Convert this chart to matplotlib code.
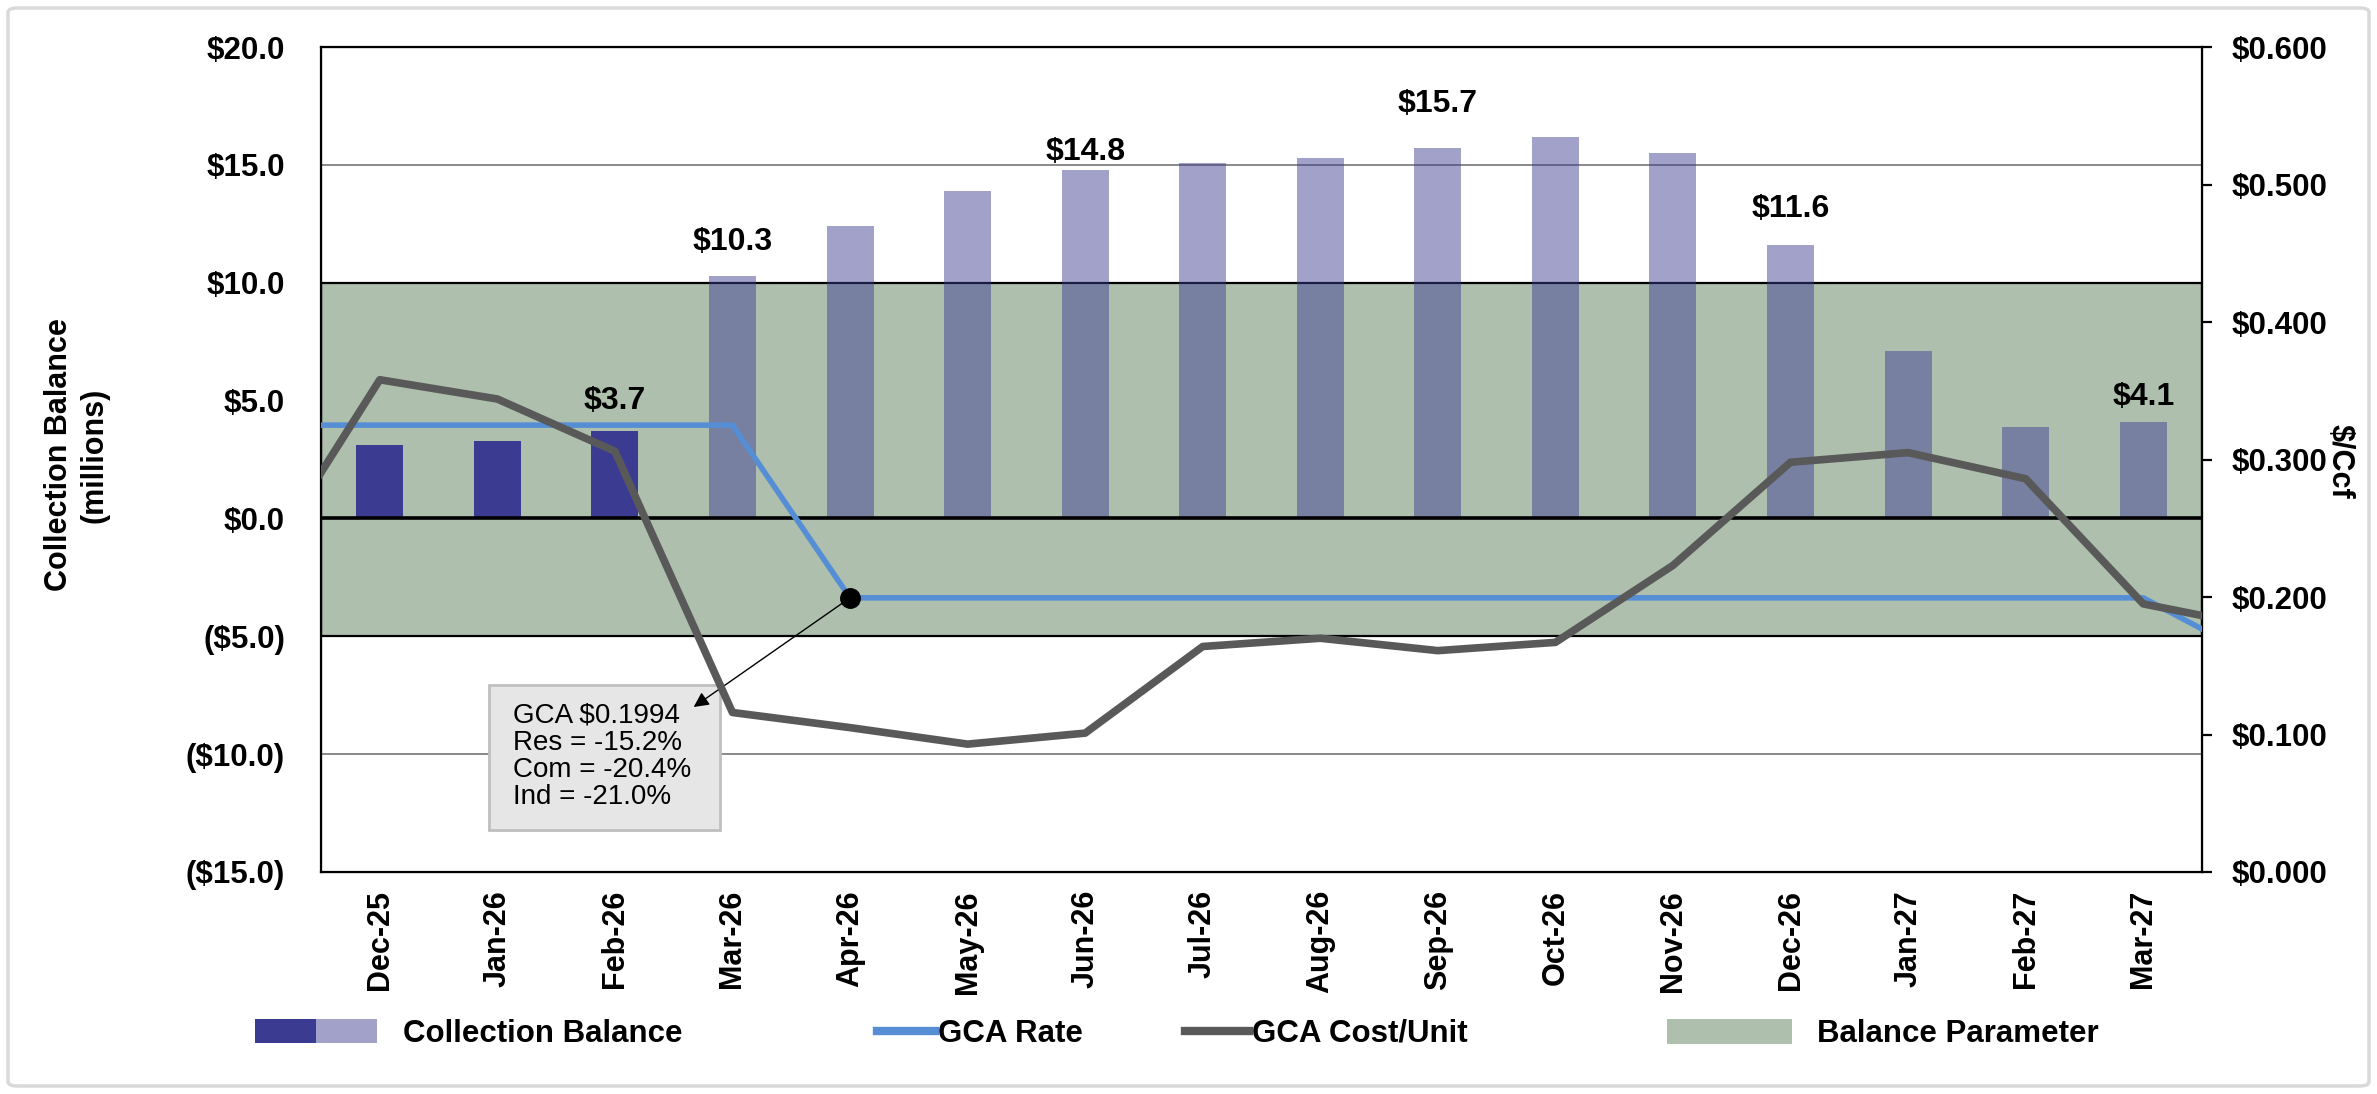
import matplotlib.pyplot as plt
from matplotlib.patches import Rectangle, FancyBboxPatch, Patch
from matplotlib.lines import Line2D
from matplotlib.legend_handler import HandlerTuple
from matplotlib.ticker import FuncFormatter

plt.rcParams['font.family'] = ['Liberation Sans', 'DejaVu Sans']

# ---- data ----
months = ["Dec-25", "Jan-26", "Feb-26", "Mar-26", "Apr-26", "May-26", "Jun-26", "Jul-26",
          "Aug-26", "Sep-26", "Oct-26", "Nov-26", "Dec-26", "Jan-27", "Feb-27", "Mar-27"]
balance = [3.1, 3.3, 3.7, 10.3, 12.4, 13.9, 14.8, 15.1, 15.3, 15.7, 16.2, 15.5, 11.6, 7.1, 3.9, 4.1]
n_actual = 3  # Dec-25 .. Feb-26 are actuals

# the two rate lines carry one month on each side, clipped by the axis
line_months = ["Nov-25"] + months + ["Apr-27"]
gca_rate = [0.325, 0.325, 0.325, 0.325, 0.325, 0.1994, 0.1994, 0.1994, 0.1994, 0.1994,
            0.1994, 0.1994, 0.1994, 0.1994, 0.1994, 0.1994, 0.1994, 0.154]
gca_cost = [0.223, 0.358, 0.344, 0.306, 0.116, 0.105, 0.093, 0.101, 0.164, 0.170,
            0.161, 0.167, 0.223, 0.298, 0.305, 0.286, 0.195, 0.178]

balance_param = (-5.0, 10.0)
labelled = {"Feb-26": 22, "Mar-26": 24, "Jun-26": 13, "Sep-26": 32, "Dec-26": 26, "Mar-27": 18}
note_month = "Apr-26"
note_lines = ["GCA $0.1994", "Res = -15.2%", "Com = -20.4%", "Ind = -21.0%"]

# ---- colours ----
navy = "#3B3C91"
navy_fc = (0.231, 0.235, 0.569, 0.48)
green = "#AEBFAE"
blue = "#558ED5"
grey = "#595959"

W, H = 2377, 1094
fig = plt.figure(figsize=(W / 100, H / 100), dpi=100)
ax = fig.add_axes([321 / W, 1 - 872 / H, (2202 - 321) / W, (872 - 47) / H])
ax2 = ax.twinx()

fs = 22

x = list(range(len(months)))
ax.set_xlim(-0.5, len(months) - 0.5)
ax.set_ylim(-15, 20)
ax.set_yticks(range(-15, 21, 5))
ax.yaxis.set_major_formatter(FuncFormatter(lambda v, p: f"${v:.1f}" if v >= 0 else f"(${-v:.1f})"))
ax.set_axisbelow(True)
ax.yaxis.grid(True, color="#808080", lw=1.3)

ax.axhspan(balance_param[0], balance_param[1], fc=green, ec="black", lw=1.6, zorder=1)

bar_cols = [navy if i < n_actual else navy_fc for i in x]
ax.bar(x, balance, width=0.4, color=bar_cols, zorder=2)
ax.axhline(0, color="black", lw=2.6, zorder=2.5)

for m, off in labelled.items():
    i = months.index(m)
    ax.annotate(f"${balance[i]:.1f}", xy=(i, balance[i]), xytext=(0, off), textcoords="offset points",
                ha="center", va="center", fontsize=23, fontweight="bold", zorder=5)

ax.set_xticks(x)
ax.set_xticklabels(months, rotation=90, fontsize=fs, fontweight="bold")
ax.tick_params(axis="x", length=0, pad=13)
ax.tick_params(axis="y", length=0, pad=26, labelsize=22.5)
for t in ax.get_yticklabels():
    t.set_fontweight("bold")
for s in ax.spines.values():
    s.set_linewidth(1.6)

# right axis: $/Ccf
lx = list(range(-1, len(line_months) - 1))
ax2.plot(lx, gca_rate, color=blue, lw=4, zorder=3)
ax2.plot(lx, gca_cost, color=grey, lw=5.5, zorder=4)
ni = line_months.index(note_month)
ax2.plot(lx[ni], gca_rate[ni], "o", color="black", ms=14, zorder=6)
ax2.set_ylim(0, 0.6)
ax2.set_yticks([0.0, 0.1, 0.2, 0.3, 0.4, 0.5, 0.6])
ax2.yaxis.set_major_formatter(FuncFormatter(lambda v, p: f"${v:.3f}"))
ax2.tick_params(axis="y", direction="out", length=7, width=1.6, pad=14, labelsize=22.5)
for t in ax2.get_yticklabels():
    t.set_fontweight("bold")
ax2.set_xlim(-0.5, len(months) - 0.5)

# call-out box
ax.add_patch(Rectangle((0.93, -13.2), 1.96, 6.14, fc="#E6E6E6", ec="#BFBFBF", lw=2, zorder=6))
ax.text(1.13, -10.09, "\n".join(note_lines), ha="left", va="center", fontsize=20,
        linespacing=1.07, zorder=7)
ax.annotate("", xy=(2.67, -8.0), xytext=(months.index(note_month), (gca_rate[ni] / 0.6) * 35 - 15),
            arrowprops=dict(arrowstyle="-|>,head_length=0.9,head_width=0.45", color="black", lw=1,
                            shrinkA=6, shrinkB=0), zorder=8)

# axis titles
fig.text(77 / W, 1 - 455 / H, "Collection Balance\n(millions)", rotation=90, ha="center", va="center",
         fontsize=fs, fontweight="bold", linespacing=1.25)
fig.text(2340 / W, 1 - 461 / H, "$/Ccf", rotation=270, ha="center", va="center",
         fontsize=fs, fontweight="bold")

# legend entries
yleg = 1 - 1034 / H
leg_kw = dict(frameon=False, borderpad=0, borderaxespad=0, loc="center left",
              prop=dict(size=22.5, weight="bold"))
fig.legend([(Patch(fc=navy), Patch(fc=navy_fc))], ["Collection Balance"],
           handler_map={tuple: HandlerTuple(ndivide=None, pad=0)},
           bbox_to_anchor=(255 / W, yleg), handlelength=3.9, handleheight=0.8, handletextpad=0.85, **leg_kw)
fig.legend([Line2D([], [], color=blue, lw=6)], ["GCA Rate"], bbox_to_anchor=(877 / W, yleg),
           handlelength=1.85, handletextpad=0.1, **leg_kw)
fig.legend([Line2D([], [], color=grey, lw=6)], ["GCA Cost/Unit"], bbox_to_anchor=(1185 / W, yleg),
           handlelength=2.05, handletextpad=0.1, **leg_kw)
fig.legend([Patch(fc=green)], ["Balance Parameter"], bbox_to_anchor=(1667 / W, yleg),
           handlelength=4.0, handleheight=0.85, handletextpad=0.8, **leg_kw)

# outer frame
fig.patches.append(FancyBboxPatch((8 / W, 8 / H), 1 - 16 / W, 1 - 16 / H, boxstyle="round,pad=0,rounding_size=0.004",
                                  transform=fig.transFigure, fill=False, ec="#D9D9D9", lw=2.5))

fig.savefig("out.png", dpi=100)
